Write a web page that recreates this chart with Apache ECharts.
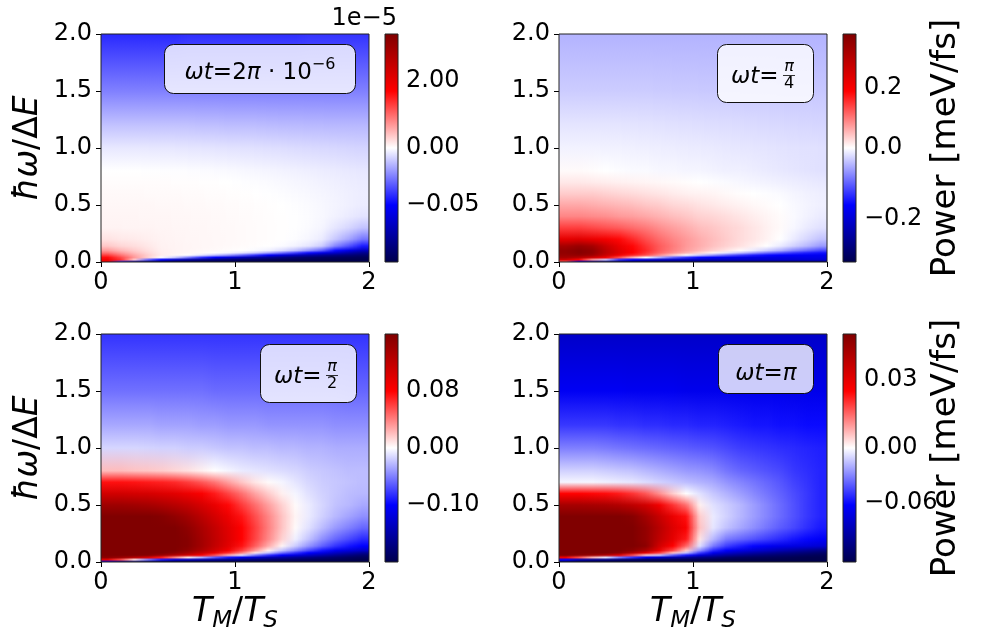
<!DOCTYPE html>
<html>
<head>
<meta charset="utf-8">
<script src="https://cdn.jsdelivr.net/npm/echarts@6/dist/echarts.min.js"></script>
<style>
  html, body { margin: 0; padding: 0; background: #fff; }
  #chart { width: 982px; height: 635px; }
</style>
</head>
<body>
<div id="chart"></div>
<script>
// T_M/T_S sample columns
const tmCenters = [0.05, 0.15, 0.25, 0.35, 0.45, 0.55, 0.65, 0.75, 0.85, 0.95,
                   1.05, 1.15, 1.25, 1.35, 1.45, 1.55, 1.65, 1.75, 1.85, 1.95];
// hbar*omega/DeltaE levels at which each column is sampled
const omegaRows = [0, 0.02, 0.04, 0.06, 0.08, 0.1, 0.14, 0.2, 0.3, 0.4, 0.5, 0.6, 0.7, 0.8, 1.0, 1.2, 1.5, 2.0];

// Power [meV/fs] for omega*t = 2*pi*1e-6, in units of 1e-5; one list per column, along omegaRows
const powerWt2pi1e6 = [
  [1.87, 1.87, 1.63, 1.29, 0.95, 0.68, 0.37, 0.19, 0.08, 0.065, 0.055, 0.04, 0.022, 0, -0.0045, -0.012, -0.025, -0.042],
  [-0.04, 1.36, 1.19, 0.92, 0.68, 0.48, 0.27, 0.15, 0.077, 0.065, 0.055, 0.04, 0.022, 0, -0.0045, -0.012, -0.025, -0.042],
  [-0.075, 0.34, 0.68, 0.58, 0.44, 0.34, 0.22, 0.136, 0.074, 0.064, 0.053, 0.038, 0.022, 0, -0.0045, -0.012, -0.025, -0.042],
  [-0.09, -0.03, 0.3, 0.32, 0.26, 0.21, 0.16, 0.11, 0.072, 0.062, 0.051, 0.036, 0.02, -0.0002, -0.0046, -0.012, -0.025, -0.042],
  [-0.095, -0.05, 0, 0.12, 0.11, 0.1, 0.09, 0.08, 0.068, 0.06, 0.049, 0.033, 0.018, -0.0003, -0.0047, -0.012, -0.025, -0.042],
  [-0.1, -0.065, -0.01, 0.06, 0.08, 0.078, 0.076, 0.07, 0.062, 0.055, 0.046, 0.031, 0.016, -0.0004, -0.0048, -0.012, -0.025, -0.042],
  [-0.1, -0.075, -0.025, 0.011, 0.056, 0.065, 0.066, 0.062, 0.057, 0.051, 0.042, 0.029, 0.013, -0.0005, -0.005, -0.012, -0.025, -0.041],
  [-0.1, -0.082, -0.04, -0.005, 0.033, 0.051, 0.057, 0.055, 0.053, 0.046, 0.038, 0.024, 0.009, -0.0007, -0.0052, -0.0125, -0.025, -0.041],
  [-0.1, -0.087, -0.05, -0.012, 0, 0.038, 0.049, 0.049, 0.046, 0.042, 0.033, 0.02, 0.0046, -0.0009, -0.0054, -0.0125, -0.025, -0.041],
  [-0.1, -0.09, -0.06, -0.02, -0.002, 0.022, 0.04, 0.042, 0.04, 0.035, 0.029, 0.016, 0, -0.0011, -0.0056, -0.013, -0.025, -0.041],
  [-0.1, -0.093, -0.068, -0.03, -0.005, 0.0046, 0.029, 0.033, 0.033, 0.029, 0.022, 0.009, -0.0003, -0.0014, -0.0058, -0.013, -0.025, -0.041],
  [-0.1, -0.095, -0.075, -0.04, -0.01, -0.001, 0.018, 0.024, 0.024, 0.022, 0.016, 0.002, -0.0006, -0.0017, -0.006, -0.013, -0.025, -0.041],
  [-0.1, -0.096, -0.08, -0.05, -0.018, -0.003, 0.0046, 0.016, 0.016, 0.013, 0.009, -0.0002, -0.0009, -0.002, -0.0063, -0.0133, -0.025, -0.041],
  [-0.1, -0.097, -0.085, -0.06, -0.028, -0.007, -0.0008, 0.0046, 0.0065, 0.0046, 0, -0.0006, -0.0013, -0.0024, -0.0066, -0.0135, -0.025, -0.041],
  [-0.1, -0.098, -0.089, -0.068, -0.038, -0.013, -0.0025, -0.0006, -0.0002, -0.0002, -0.0004, -0.001, -0.0017, -0.0028, -0.007, -0.0135, -0.025, -0.041],
  [-0.1, -0.098, -0.092, -0.075, -0.048, -0.022, -0.005, -0.0018, -0.0009, -0.0007, -0.0009, -0.0014, -0.0021, -0.0032, -0.0073, -0.0137, -0.025, -0.04],
  [-0.1, -0.099, -0.094, -0.08, -0.057, -0.032, -0.01, -0.004, -0.002, -0.0014, -0.0015, -0.0019, -0.0026, -0.0036, -0.0076, -0.0138, -0.025, -0.04],
  [-0.1, -0.1, -0.095, -0.085, -0.065, -0.048, -0.024, -0.011, -0.005, -0.0026, -0.0022, -0.0025, -0.0031, -0.004, -0.0079, -0.014, -0.025, -0.04],
  [-0.1, -0.1, -0.096, -0.088, -0.074, -0.058, -0.034, -0.018, -0.008, -0.004, -0.003, -0.0031, -0.0036, -0.0044, -0.0082, -0.014, -0.025, -0.04],
  [-0.1, -0.1, -0.097, -0.091, -0.082, -0.068, -0.045, -0.027, -0.012, -0.0055, -0.0038, -0.0036, -0.004, -0.0048, -0.0085, -0.014, -0.025, -0.04]
];

// Power [meV/fs] for omega*t = pi/4
const powerWtPi4 = [
  [0.114, 0.266, 0.323, 0.342, 0.353, 0.353, 0.323, 0.228, 0.144, 0.091, 0.065, 0.038, 0.017, 0.004, -0.008, -0.016, -0.032, -0.048],
  [-0.16, 0.19, 0.304, 0.353, 0.369, 0.369, 0.342, 0.236, 0.144, 0.091, 0.065, 0.038, 0.017, 0.004, -0.008, -0.016, -0.032, -0.048],
  [-0.256, 0.076, 0.266, 0.334, 0.353, 0.353, 0.323, 0.22, 0.137, 0.087, 0.061, 0.038, 0.015, 0.002, -0.0083, -0.016, -0.032, -0.048],
  [-0.288, -0.032, 0.209, 0.27, 0.29, 0.29, 0.27, 0.205, 0.129, 0.084, 0.057, 0.034, 0.013, 0, -0.0086, -0.0163, -0.032, -0.048],
  [-0.304, -0.128, 0.133, 0.21, 0.235, 0.235, 0.22, 0.185, 0.122, 0.076, 0.053, 0.03, 0.011, -0.0016, -0.009, -0.0166, -0.032, -0.048],
  [-0.304, -0.16, 0.057, 0.165, 0.19, 0.19, 0.185, 0.16, 0.11, 0.072, 0.049, 0.027, 0.0095, -0.0032, -0.0096, -0.017, -0.032, -0.048],
  [-0.304, -0.192, 0, 0.133, 0.152, 0.16, 0.152, 0.133, 0.099, 0.065, 0.042, 0.023, 0.0076, -0.0032, -0.0102, -0.0176, -0.032, -0.048],
  [-0.304, -0.208, -0.048, 0.084, 0.114, 0.122, 0.122, 0.11, 0.084, 0.057, 0.038, 0.019, 0.0057, -0.0048, -0.0109, -0.0182, -0.0326, -0.048],
  [-0.304, -0.214, -0.096, 0.038, 0.084, 0.095, 0.099, 0.091, 0.072, 0.049, 0.03, 0.015, 0.0038, -0.0048, -0.0115, -0.0189, -0.033, -0.048],
  [-0.304, -0.218, -0.128, 0, 0.057, 0.072, 0.076, 0.076, 0.061, 0.042, 0.027, 0.011, 0.0019, -0.0064, -0.0122, -0.0195, -0.0333, -0.048],
  [-0.304, -0.218, -0.154, -0.032, 0.03, 0.053, 0.061, 0.061, 0.049, 0.034, 0.021, 0.0095, 0, -0.0064, -0.0128, -0.0202, -0.0336, -0.048],
  [-0.304, -0.218, -0.166, -0.064, 0.0076, 0.034, 0.046, 0.049, 0.042, 0.03, 0.017, 0.0076, -0.0016, -0.008, -0.0134, -0.0208, -0.0339, -0.048],
  [-0.304, -0.214, -0.176, -0.096, -0.016, 0.019, 0.034, 0.038, 0.034, 0.025, 0.013, 0.0046, -0.0032, -0.0096, -0.0144, -0.0214, -0.0339, -0.048],
  [-0.304, -0.211, -0.182, -0.122, -0.038, 0.0038, 0.023, 0.027, 0.027, 0.019, 0.0095, 0.0019, -0.0048, -0.0096, -0.0154, -0.0221, -0.0342, -0.048],
  [-0.304, -0.208, -0.186, -0.141, -0.064, -0.0128, 0.011, 0.019, 0.019, 0.013, 0.0057, 0, -0.0064, -0.0112, -0.016, -0.0227, -0.0346, -0.048],
  [-0.304, -0.205, -0.186, -0.154, -0.09, -0.032, 0, 0.0095, 0.011, 0.0076, 0.003, -0.0016, -0.008, -0.0128, -0.0166, -0.0234, -0.0346, -0.048],
  [-0.304, -0.202, -0.186, -0.16, -0.109, -0.051, -0.0128, 0, 0.0038, 0.003, 0, -0.0032, -0.0096, -0.0144, -0.0176, -0.024, -0.0349, -0.048],
  [-0.304, -0.202, -0.186, -0.166, -0.128, -0.077, -0.029, -0.0128, -0.0048, -0.0032, -0.0038, -0.0064, -0.0112, -0.016, -0.0182, -0.0246, -0.0349, -0.048],
  [-0.304, -0.198, -0.182, -0.17, -0.141, -0.096, -0.045, -0.0256, -0.0128, -0.008, -0.007, -0.0086, -0.0128, -0.0176, -0.0189, -0.0253, -0.0352, -0.048],
  [-0.304, -0.198, -0.182, -0.173, -0.15, -0.115, -0.064, -0.038, -0.019, -0.0128, -0.0096, -0.0106, -0.0144, -0.0192, -0.0192, -0.0256, -0.0352, -0.048]
];

// Power [meV/fs] for omega*t = pi/2
const powerWtPi2 = [
  [-0.1, 0.096, 0.152, 0.16, 0.16, 0.16, 0.16, 0.16, 0.16, 0.16, 0.141, 0.109, 0.075, 0.021, -0.016, -0.034, -0.056, -0.08],
  [-0.16, 0.056, 0.144, 0.16, 0.16, 0.16, 0.16, 0.16, 0.16, 0.16, 0.141, 0.109, 0.075, 0.021, -0.016, -0.034, -0.056, -0.08],
  [-0.18, 0.008, 0.128, 0.16, 0.16, 0.16, 0.16, 0.16, 0.16, 0.16, 0.139, 0.107, 0.074, 0.019, -0.016, -0.034, -0.056, -0.08],
  [-0.19, -0.05, 0.104, 0.157, 0.16, 0.16, 0.16, 0.16, 0.16, 0.16, 0.136, 0.106, 0.072, 0.018, -0.017, -0.034, -0.056, -0.08],
  [-0.2, -0.09, 0.072, 0.144, 0.16, 0.16, 0.16, 0.16, 0.16, 0.157, 0.131, 0.102, 0.07, 0.016, -0.018, -0.036, -0.056, -0.08],
  [-0.2, -0.12, 0.04, 0.128, 0.152, 0.16, 0.16, 0.16, 0.16, 0.149, 0.125, 0.098, 0.067, 0.013, -0.018, -0.036, -0.056, -0.08],
  [-0.2, -0.136, 0.008, 0.109, 0.136, 0.149, 0.155, 0.155, 0.15, 0.138, 0.117, 0.091, 0.061, 0.0096, -0.02, -0.036, -0.056, -0.08],
  [-0.2, -0.148, -0.03, 0.083, 0.115, 0.131, 0.138, 0.138, 0.134, 0.123, 0.106, 0.083, 0.053, 0.0048, -0.02, -0.038, -0.056, -0.08],
  [-0.2, -0.156, -0.064, 0.056, 0.093, 0.109, 0.118, 0.12, 0.117, 0.107, 0.093, 0.072, 0.043, 0, -0.022, -0.038, -0.058, -0.08],
  [-0.2, -0.164, -0.09, 0.024, 0.067, 0.086, 0.098, 0.101, 0.099, 0.091, 0.078, 0.059, 0.03, -0.004, -0.024, -0.04, -0.058, -0.08],
  [-0.2, -0.17, -0.11, -0.01, 0.04, 0.061, 0.075, 0.08, 0.08, 0.074, 0.062, 0.045, 0.018, -0.008, -0.024, -0.04, -0.058, -0.08],
  [-0.2, -0.176, -0.126, -0.05, 0.008, 0.032, 0.051, 0.059, 0.061, 0.056, 0.046, 0.029, 0.008, -0.01, -0.026, -0.04, -0.058, -0.08],
  [-0.2, -0.18, -0.14, -0.08, -0.024, 0.0048, 0.026, 0.037, 0.04, 0.038, 0.03, 0.016, 0.0016, -0.012, -0.026, -0.042, -0.058, -0.08],
  [-0.2, -0.184, -0.15, -0.1, -0.056, -0.024, 0.0032, 0.0144, 0.019, 0.019, 0.0144, 0.0048, -0.004, -0.014, -0.028, -0.042, -0.058, -0.08],
  [-0.2, -0.186, -0.16, -0.116, -0.08, -0.048, -0.02, -0.006, 0.0016, 0.0032, 0.0016, -0.004, -0.01, -0.016, -0.028, -0.042, -0.058, -0.08],
  [-0.2, -0.19, -0.168, -0.132, -0.1, -0.072, -0.042, -0.024, -0.012, -0.008, -0.008, -0.012, -0.016, -0.02, -0.03, -0.042, -0.058, -0.08],
  [-0.2, -0.192, -0.176, -0.146, -0.116, -0.092, -0.062, -0.044, -0.026, -0.018, -0.016, -0.018, -0.02, -0.022, -0.03, -0.042, -0.058, -0.08],
  [-0.2, -0.194, -0.182, -0.16, -0.134, -0.11, -0.08, -0.06, -0.04, -0.028, -0.024, -0.022, -0.022, -0.024, -0.032, -0.044, -0.058, -0.08],
  [-0.2, -0.196, -0.188, -0.17, -0.146, -0.12, -0.092, -0.072, -0.05, -0.036, -0.028, -0.026, -0.024, -0.026, -0.032, -0.044, -0.06, -0.08],
  [-0.2, -0.2, -0.192, -0.18, -0.16, -0.13, -0.1, -0.084, -0.06, -0.044, -0.034, -0.028, -0.026, -0.026, -0.032, -0.044, -0.06, -0.08]
];

// Power [meV/fs] for omega*t = pi
const powerWtPi = [
  [-0.119, -0.0625, 0.0275, 0.05, 0.05, 0.05, 0.05, 0.05, 0.05, 0.05, 0.0425, 0.025, -0.0025, -0.0113, -0.0313, -0.0488, -0.0663, -0.0813],
  [-0.125, -0.0875, 0.0175, 0.0475, 0.05, 0.05, 0.05, 0.05, 0.05, 0.05, 0.0425, 0.025, -0.0025, -0.0113, -0.0313, -0.0488, -0.0663, -0.0813],
  [-0.125, -0.1, 0.0075, 0.045, 0.05, 0.05, 0.05, 0.05, 0.05, 0.05, 0.042, 0.0245, -0.0025, -0.0113, -0.0313, -0.0488, -0.0663, -0.0813],
  [-0.125, -0.106, -0.0063, 0.04, 0.05, 0.05, 0.05, 0.05, 0.05, 0.05, 0.0415, 0.024, -0.0038, -0.0125, -0.0325, -0.0488, -0.0663, -0.0813],
  [-0.125, -0.1125, -0.0313, 0.03, 0.0475, 0.05, 0.05, 0.05, 0.05, 0.05, 0.04, 0.0225, -0.005, -0.0138, -0.0338, -0.05, -0.0663, -0.0813],
  [-0.125, -0.115, -0.05, 0.0175, 0.04, 0.0475, 0.05, 0.05, 0.05, 0.0485, 0.0375, 0.02, -0.0063, -0.015, -0.035, -0.05, -0.0675, -0.0813],
  [-0.125, -0.119, -0.0688, 0.005, 0.03, 0.041, 0.0475, 0.046, 0.046, 0.043, 0.034, 0.0165, -0.0088, -0.0175, -0.0363, -0.0513, -0.0675, -0.0813],
  [-0.125, -0.12, -0.0813, -0.0125, 0.019, 0.029, 0.034, 0.0375, 0.039, 0.036, 0.0275, 0.011, -0.0113, -0.02, -0.0375, -0.0513, -0.0675, -0.0813],
  [-0.125, -0.121, -0.09, -0.0375, 0.006, 0.018, 0.025, 0.03, 0.0315, 0.029, 0.02, 0.005, -0.0138, -0.0225, -0.0388, -0.0525, -0.0675, -0.0813],
  [-0.125, -0.1225, -0.0975, -0.0563, -0.015, 0.005, 0.015, 0.0225, 0.026, 0.0235, 0.014, 0, -0.0163, -0.025, -0.04, -0.0525, -0.0688, -0.0813],
  [-0.125, -0.1225, -0.105, -0.075, -0.0475, -0.0275, -0.0075, 0.0025, 0.006, 0.005, 0.0015, -0.0075, -0.0188, -0.0263, -0.0413, -0.0538, -0.0688, -0.0813],
  [-0.125, -0.124, -0.109, -0.0875, -0.0688, -0.0525, -0.0325, -0.0175, -0.0063, -0.005, -0.0075, -0.0138, -0.0213, -0.0288, -0.0425, -0.0538, -0.0688, -0.0813],
  [-0.125, -0.125, -0.115, -0.0975, -0.08, -0.065, -0.0475, -0.0325, -0.015, -0.0113, -0.0125, -0.0188, -0.0263, -0.0338, -0.045, -0.055, -0.0688, -0.0813],
  [-0.125, -0.125, -0.1175, -0.1025, -0.0875, -0.0725, -0.055, -0.0375, -0.0213, -0.0175, -0.0175, -0.0238, -0.03, -0.0375, -0.0475, -0.0563, -0.0688, -0.0813],
  [-0.125, -0.125, -0.119, -0.1075, -0.0938, -0.0788, -0.0613, -0.0425, -0.0275, -0.0238, -0.0238, -0.0288, -0.0338, -0.04, -0.0488, -0.0575, -0.0688, -0.0813],
  [-0.125, -0.125, -0.12, -0.111, -0.0988, -0.0838, -0.0663, -0.0475, -0.0338, -0.03, -0.03, -0.0338, -0.0375, -0.0425, -0.05, -0.0575, -0.0688, -0.0813],
  [-0.125, -0.125, -0.121, -0.114, -0.104, -0.09, -0.07, -0.0525, -0.04, -0.0363, -0.0363, -0.0388, -0.0413, -0.045, -0.0513, -0.0588, -0.0688, -0.0813],
  [-0.125, -0.125, -0.1225, -0.116, -0.1075, -0.095, -0.0725, -0.0575, -0.045, -0.0425, -0.0425, -0.0438, -0.0463, -0.0488, -0.0525, -0.0588, -0.07, -0.0813],
  [-0.125, -0.125, -0.124, -0.119, -0.111, -0.1, -0.075, -0.0613, -0.0513, -0.0488, -0.0488, -0.0488, -0.05, -0.0513, -0.0538, -0.06, -0.07, -0.0813],
  [-0.125, -0.125, -0.124, -0.121, -0.115, -0.105, -0.0775, -0.065, -0.0563, -0.0538, -0.0538, -0.0538, -0.0538, -0.0538, -0.055, -0.06, -0.07, -0.0813]
];

// Colour-scale limits [min, max] (zero sits at the middle of every colour bar)
const colorLimits = [[-0.1, 3.4], [-0.32, 0.38], [-0.2, 0.16], [-0.125, 0.05]];
// Colour-bar tick values and their decimals
const colorbarTicks = [[2, 0, -0.05], [0.2, 0, -0.2], [0.08, 0, -0.1], [0.03, 0, -0.06]];
const colorbarDecimals = [2, 1, 2, 2];
const xTickStep = 1;
const yTickStep = 0.5;

const FONT = 'DejaVu Sans';
const panelData = [powerWt2pi1e6, powerWtPi4, powerWtPi2, powerWtPi];

// matplotlib "seismic" colour map
const seismic = [[0, [0, 0, 76.5]], [0.25, [0, 0, 255]], [0.5, [255, 255, 255]], [0.75, [255, 0, 0]], [1, [127.5, 0, 0]]];
function cmap(n) {
  n = Math.max(0, Math.min(1, n));
  for (let k = 1; k < seismic.length; k++) {
    if (n <= seismic[k][0]) {
      const a = seismic[k - 1], b = seismic[k];
      const f = (n - a[0]) / (b[0] - a[0]);
      return a[1].map((c, j) => c + (b[1][j] - c) * f);
    }
  }
  return seismic[seismic.length - 1][1];
}
function css(rgb) {
  return 'rgb(' + rgb.map(Math.round).join(',') + ')';
}
function mixRgb(a, b, f) {
  return a.map((c, j) => c + (b[j] - c) * f);
}
// two-slope normalisation centred on zero
function norm(v, lim) {
  return v >= 0 ? 0.5 + 0.5 * v / lim[1] : 0.5 - 0.5 * v / lim[0];
}
function fmt(v, d) {
  return v.toFixed(d).replace('-', '\u2212');
}

const plotBoxes = [
  { left: 101, top: 34 }, { left: 559, top: 34 },
  { left: 101, top: 334 }, { left: 559, top: 334 }
];
const PW = 268, PH = 228;
const cbBoxes = [
  { left: 385, top: 34 }, { left: 843, top: 34 },
  { left: 385, top: 334 }, { left: 843, top: 334 }
];
const CBW = 13;

const grid = [], xAxis = [], yAxis = [], series = [];
const axisText = { fontFamily: FONT, fontSize: 24, color: '#000' };

plotBoxes.forEach((b, i) => {
  grid.push({ left: b.left, top: b.top, width: PW, height: PH });
  xAxis.push({
    gridIndex: i, type: 'value', min: 0, max: 2, interval: xTickStep,
    axisLine: { show: false },
    axisTick: { show: true, length: 5, lineStyle: { color: '#000', width: 1 } },
    axisLabel: Object.assign({ margin: 9, formatter: v => String(v) }, axisText),
    splitLine: { show: false }
  });
  yAxis.push({
    gridIndex: i, type: 'value', min: 0, max: 2, interval: yTickStep,
    axisLine: { show: false },
    axisTick: { show: true, length: 5, lineStyle: { color: '#000', width: 1 } },
    axisLabel: Object.assign({ margin: 9, formatter: v => v.toFixed(1) }, axisText),
    splitLine: { show: false }
  });
});

cbBoxes.forEach((b, i) => {
  const gi = 4 + i;
  const lim = colorLimits[i];
  const ticks = colorbarTicks[i];
  const pos = ticks.map(t => norm(t, lim));
  grid.push({ left: b.left, top: b.top, width: CBW, height: PH });
  xAxis.push({ gridIndex: gi, type: 'value', min: 0, max: 1, show: false });
  yAxis.push({
    gridIndex: gi, type: 'value', min: 0, max: 1, position: 'right',
    axisLine: { show: false },
    splitLine: { show: false },
    axisTick: { show: true, length: 4, customValues: pos, lineStyle: { color: '#000', width: 1 } },
    axisLabel: Object.assign({
      margin: 8, customValues: pos,
      formatter: v => {
        let best = 0;
        pos.forEach((p, k) => { if (Math.abs(p - v) < Math.abs(pos[best] - v)) best = k; });
        return fmt(ticks[best], colorbarDecimals[i]);
      }
    }, axisText)
  });
});

// Heat maps: each sampled column is drawn with a vertical gradient through its values,
// and the space between neighbouring columns is shaded Gouraud-style (colour blend).
const SUB = 10;
panelData.forEach((values, i) => {
  const lim = colorLimits[i];
  const colRgb = values.map(col => col.map(v => cmap(norm(v, lim))));
  const last = tmCenters.length - 1;
  series.push({
    type: 'custom', xAxisIndex: i, yAxisIndex: i, silent: true,
    data: tmCenters.map(t => [t, 1]),
    renderItem: (params, api) => {
      const c = params.dataIndex;
      const t = api.value(0);
      const yTop = api.coord([t, 2])[1];
      const yBot = api.coord([t, 0])[1];
      const h = yBot - yTop;
      const offs = omegaRows.map(w => Math.min(1, Math.max(0, (api.coord([t, w])[1] - yTop) / h)));
      const strip = (xa, xb, rgbs, pad) => ({
        type: 'rect',
        shape: { x: xa, y: yTop, width: xb - xa + pad, height: h },
        style: {
          fill: {
            type: 'linear', x: 0, y: 0, x2: 0, y2: 1,
            colorStops: rgbs.map((rgb, r) => ({ offset: offs[r], color: css(rgb) }))
                            .sort((p, q) => p.offset - q.offset)
          }
        }
      });
      const children = [];
      const xc = api.coord([t, 0])[0];
      if (c === 0) children.push(strip(api.coord([0, 0])[0], xc, colRgb[0], 1));
      if (c === last) {
        children.push(strip(xc, api.coord([2, 0])[0], colRgb[last], 0));
      } else {
        const xn = api.coord([tmCenters[c + 1], 0])[0];
        const w = (xn - xc) / SUB;
        for (let k = 0; k < SUB; k++) {
          const f = (k + 0.5) / SUB;
          const rgbs = colRgb[c].map((a, r) => mixRgb(a, colRgb[c + 1][r], f));
          children.push(strip(xc + k * w, xc + (k + 1) * w, rgbs, 1));
        }
      }
      return { type: 'group', children: children };
    },
    z: 2
  });
  // frame of the panel
  series.push({
    type: 'custom', xAxisIndex: i, yAxisIndex: i, silent: true,
    data: [[0, 0]],
    renderItem: (params, api) => {
      const a = api.coord([0, 2]), b = api.coord([2, 0]);
      return {
        type: 'rect',
        shape: { x: a[0], y: a[1], width: b[0] - a[0], height: b[1] - a[1] },
        style: { fill: 'none', stroke: '#222', lineWidth: 1 }
      };
    },
    z: 5
  });
});

// colour bars
colorLimits.forEach((lim, i) => {
  const gi = 4 + i;
  series.push({
    type: 'custom', xAxisIndex: gi, yAxisIndex: gi, silent: true,
    data: [[0, 0]],
    renderItem: (params, api) => {
      const a = api.coord([0, 1]), b = api.coord([1, 0]);
      const stops = seismic.map(s => ({ offset: 1 - s[0], color: css(s[1]) })).sort((p, q) => p.offset - q.offset);
      return {
        type: 'group',
        children: [
          { type: 'rect', shape: { x: a[0], y: a[1], width: b[0] - a[0], height: b[1] - a[1] },
            style: { fill: { type: 'linear', x: 0, y: 0, x2: 0, y2: 1, colorStops: stops } } },
          { type: 'rect', shape: { x: a[0], y: a[1], width: b[0] - a[0], height: b[1] - a[1] },
            style: { fill: 'none', stroke: '#222', lineWidth: 1 } }
        ]
      };
    }
  });
});

// text helpers
const italic = { fontFamily: FONT, fontStyle: 'italic' };
const upright = { fontFamily: FONT };
function richLabel(size, subSize) {
  return {
    i: Object.assign({ fontSize: size, lineHeight: size, verticalAlign: 'top' }, italic),
    n: Object.assign({ fontSize: size, lineHeight: size, verticalAlign: 'top' }, upright),
    s: Object.assign({ fontSize: subSize, lineHeight: subSize, verticalAlign: 'top', padding: [Math.round(size * 0.42), 0, 0, 0] }, italic)
  };
}
function textEl(x, y, text, rich, opts) {
  return Object.assign({
    type: 'text', x: x, y: y, z: 20,
    style: Object.assign({
      text: text, rich: rich, fill: '#000',
      align: 'center', verticalAlign: 'middle',
      textAlign: 'center', textVerticalAlign: 'middle',
      fontFamily: FONT
    }, (opts && opts.style) || {})
  }, (opts && opts.el) || {});
}

const graphic = [];
// axis titles
[148, 448].forEach(cy => {
  graphic.push(textEl(28, cy, '{i|\u0127\u03c9}{n|/\u0394}{i|E}', richLabel(33, 23), { el: { rotation: Math.PI / 2 } }));
  graphic.push(textEl(946, cy, 'Power [meV/fs]', null, { el: { rotation: Math.PI / 2 }, style: { fontSize: 34 } }));
});
[235, 693].forEach(cx => {
  graphic.push(textEl(cx, 612, '{i|T}{s|M}{n|/}{i|T}{s|S}', richLabel(33, 23)));
});
// colour-bar scale factor
graphic.push(textEl(397, 19, '1e\u22125', null, { style: { fontSize: 24, align: 'right', textAlign: 'right' } }));

// annotation boxes
const boxFill = 'rgba(255,255,255,0.8)';
function boxRect(x, y, w, h) {
  return { type: 'rect', z: 19, shape: { x: x, y: y, width: w, height: h, r: 9 },
           style: { fill: boxFill, stroke: '#111', lineWidth: 1 } };
}
const boxRich = {
  i: Object.assign({ fontSize: 23, lineHeight: 23, verticalAlign: 'top', padding: [5, 0, 0, 0] }, italic),
  n: Object.assign({ fontSize: 23, lineHeight: 23, verticalAlign: 'top', padding: [5, 0, 0, 0] }, upright),
  p: Object.assign({ fontSize: 16, lineHeight: 16, verticalAlign: 'top' }, upright)
};
graphic.push(boxRect(164.5, 44.5, 191, 49));
graphic.push(textEl(260, 68, '{i|\u03c9t}{n|=2}{i|\u03c0}{n| \u00b7 10}{p|\u22126}', boxRich));

function fractionBox(bx, by, num, den) {
  graphic.push(boxRect(bx + 0.5, by + 0.5, 96, 58));
  graphic.push(textEl(bx + 14, by + 28, '{i|\u03c9t}{n|=}', boxRich, { style: { align: 'left', textAlign: 'left' } }));
  graphic.push(textEl(bx + 72, by + 23, num, null, { style: { fontSize: 16, fontStyle: 'italic' } }));
  graphic.push({ type: 'line', z: 20, shape: { x1: bx + 66, y1: by + 31.5, x2: bx + 78, y2: by + 31.5 },
                 style: { stroke: '#000', lineWidth: 0.8 } });
  graphic.push(textEl(bx + 72, by + 40, den, null, { style: { fontSize: 16 } }));
}
fractionBox(717, 44, '\u03c0', '4');
fractionBox(260, 344, '\u03c0', '2');

graphic.push(boxRect(718.5, 344.5, 95, 49));
graphic.push(textEl(766, 369, '{i|\u03c9t}{n|=}{i|\u03c0}', boxRich));

const chart = echarts.init(document.getElementById('chart'), null, { renderer: 'canvas' });
chart.setOption({
  animation: false,
  backgroundColor: '#fff',
  grid: grid,
  xAxis: xAxis,
  yAxis: yAxis,
  series: series,
  graphic: graphic
});
</script>
</body>
</html>
